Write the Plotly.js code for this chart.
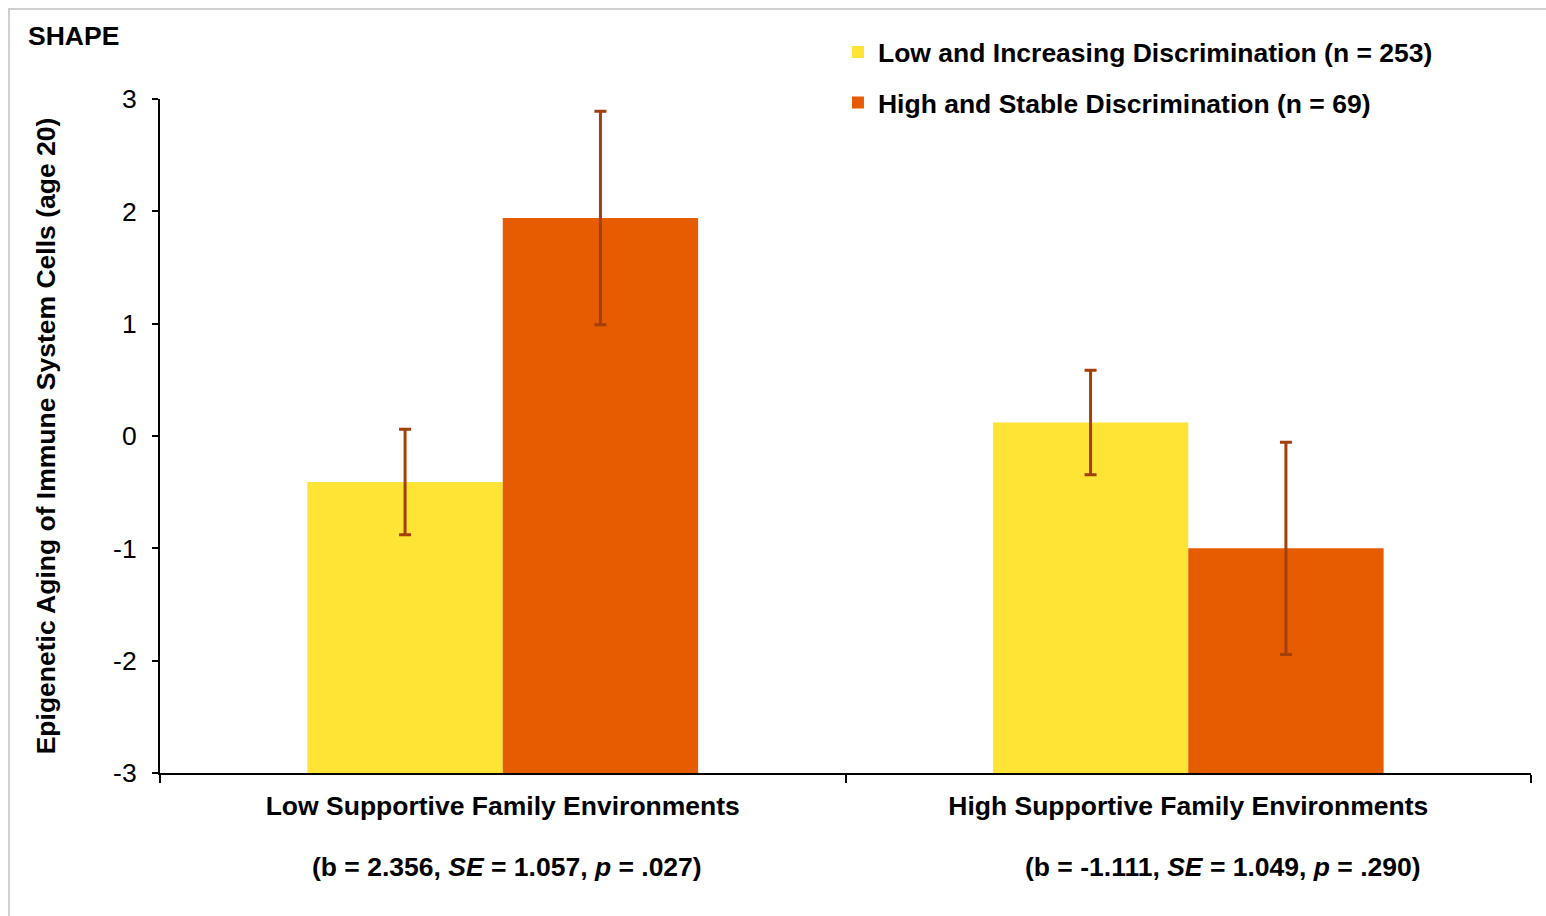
<!DOCTYPE html>
<html>
<head>
<meta charset="utf-8">
<script src="https://cdn.plot.ly/plotly-3.0.1.min.js"></script>
<style>
  html, body { margin: 0; padding: 0; background: #fff; }
  #frame { position: absolute; left: 8px; top: 8px; width: 1560px; height: 930px; border: 2px solid #d0d0d0; box-sizing: border-box; }
  #chart { position: absolute; left: 0; top: 0; width: 1546px; height: 916px; }
</style>
</head>
<body>
<div id="frame"></div>
<div id="chart"></div>
<script>
// ---- data ----
const categories = ["Low Supportive Family Environments", "High Supportive Family Environments"];
const seriesNames = ["Low and Increasing Discrimination (n = 253)", "High and Stable Discrimination (n = 69)"];
const lowIncreasing = [-0.41, 0.12];
const lowIncreasingErr = [0.47, 0.465];
const highStable = [1.94, -1.00];
const highStableErr = [0.95, 0.945];
const statsText = [
  "(b = 2.356, <i>SE</i> = 1.057, <i>p</i> = .027)",
  "(b = -1.111, <i>SE</i> = 1.049, <i>p</i> = .290)"
];
const yTicks = [-3, -2, -1, 0, 1, 2, 3];
const yBase = -3;

const FONT = "Liberation Sans, Arial, sans-serif";
const FS = 26.5;
const errColor = "#A33F08";

function barTrace(name, vals, errs, color, group) {
  return {
    type: "bar",
    name: "<b>" + name + "</b>",
    x: categories,
    base: vals.map(() => yBase),
    y: vals.map(v => v - yBase),
    customdata: vals,
    hovertemplate: "%{customdata}<extra>" + name + "</extra>",
    marker: { color: color, line: { width: 0 } },
    legendgroup: group,
    error_y: { type: "data", array: errs, visible: true, color: errColor, thickness: 3, width: 6 }
  };
}

const traces = [
  barTrace(seriesNames[0], lowIncreasing, lowIncreasingErr, "#FFE335", "g1"),
  barTrace(seriesNames[1], highStable, highStableErr, "#E65C00", "g2")
];

const annotations = categories.map((c, i) => ({
  xref: "x", yref: "paper", x: c, y: -0.139, xanchor: "center", yanchor: "middle",
  xshift: i === 0 ? 4 : 35,
  text: "<b>" + statsText[i] + "</b>", showarrow: false,
  font: { family: FONT, size: FS, color: "#000" }
}));

const layout = {
  width: 1546, height: 916,
  paper_bgcolor: "rgba(0,0,0,0)", plot_bgcolor: "rgba(0,0,0,0)",
  margin: { l: 160, r: 15, t: 99, b: 143, autoexpand: false },
  font: { family: FONT, color: "#000" },
  title: {
    text: "<b>SHAPE</b>", xref: "container", yref: "container",
    x: 28 / 1546, xanchor: "left", y: 1 - 36 / 916, yanchor: "middle",
    font: { family: FONT, size: FS, color: "#000" }
  },
  barmode: "group", bargap: 0.43, bargroupgap: 0,
  showlegend: true,
  legend: {
    x: 0.4945, xanchor: "left", y: 1.105, yanchor: "top",
    font: { family: FONT, size: FS, color: "#000" },
    tracegroupgap: 13, bgcolor: "rgba(0,0,0,0)", borderwidth: 0,
    traceorder: "grouped", itemwidth: 30
  },
  xaxis: {
    type: "category", range: [-0.5, 1.5],
    showline: true, linecolor: "#000", linewidth: 2,
    ticks: "outside", tickson: "boundaries", ticklen: 8, tickwidth: 2, tickcolor: "#000",
    tickvals: categories, ticktext: categories.map(c => "<b>" + c + "</b>"),
    tickfont: { family: FONT, size: FS, color: "#000" },
    ticklabelstandoff: 8,
    showgrid: false, zeroline: false, fixedrange: true
  },
  yaxis: {
    range: [-3, 3], tickvals: yTicks, ticktext: yTicks.map(String),
    showline: true, linecolor: "#000", linewidth: 2,
    ticks: "outside", ticklen: 6, tickwidth: 2, tickcolor: "#000",
    tickfont: { family: FONT, size: FS, color: "#000" },
    ticklabelstandoff: 10,
    showgrid: false, zeroline: false, fixedrange: true,
    title: { text: "<b>Epigenetic Aging of Immune System Cells (age 20)</b>", standoff: 50,
      font: { family: FONT, size: FS, color: "#000" } }
  },
  annotations: annotations
};

Plotly.newPlot("chart", traces, layout, { displayModeBar: false, staticPlot: false });
</script>
</body>
</html>
